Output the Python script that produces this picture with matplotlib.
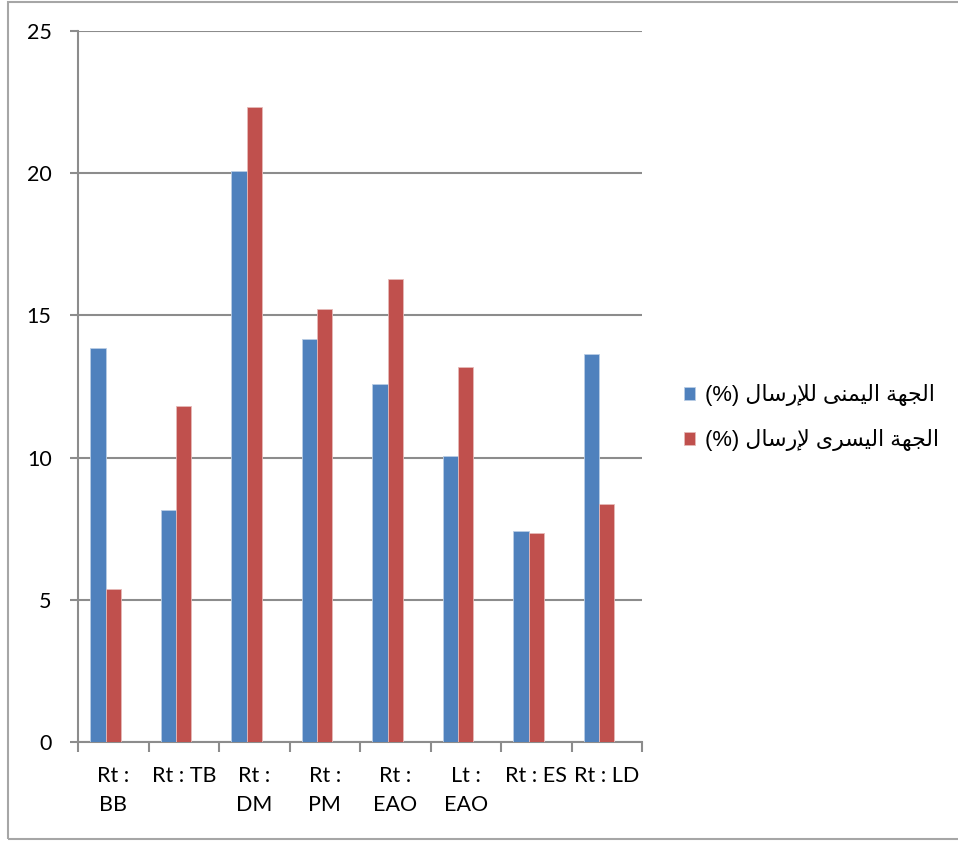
import numpy as np
import matplotlib
matplotlib.use('Agg')
import matplotlib.pyplot as plt
from matplotlib.patches import Rectangle

# data
categories = ['Rt :\nBB', 'Rt : TB', 'Rt :\nDM', 'Rt :\nPM', 'Rt :\nEAO', 'Lt :\nEAO', 'Rt : ES', 'Rt : LD']
right_side = [13.85, 8.16, 20.08, 14.16, 12.58, 10.07, 7.42, 13.64]
left_side = [5.38, 11.81, 22.34, 15.24, 16.28, 13.17, 7.36, 8.36]
yticks = [0, 5, 10, 15, 20, 25]

# legend labels (Arabic, written with presentation forms in visual order)
label_right = '(%) ' + '\uFEDD\uFE8E\uFEB3\uFEAD\uFEFA\uFEDF' + ' ' + \
    '\uFEF0\uFEE8\uFEE4\uFEF4\uFEDF\uFE8D' + ' ' + '\uFE94\uFEEC\uFEA0\uFEDF\uFE8D'
label_left = '(%) ' + '\uFEDD\uFE8E\uFEB3\uFEAD\uFEF9' + ' ' + \
    '\uFEEF\uFEAE\uFEB4\uFEF4\uFEDF\uFE8D' + ' ' + '\uFE94\uFEEC\uFEA0\uFEDF\uFE8D'

blue = '#4F81BD'
red = '#C0504D'
grey = '#8C8C8C'

fig = plt.figure(figsize=(9.58, 8.41), dpi=100)
fig.patches.append(Rectangle((8 / 958, 1 - 839 / 841), 1.0, (839 - 2) / 841,
                             transform=fig.transFigure, fill=False,
                             edgecolor='#A6A6A6', linewidth=1.5))
ax = fig.add_axes([78 / 958, 1 - 742 / 841, (642 - 78) / 958, (742 - 31) / 841])

x = np.arange(len(categories))
w = 0.217
shift = -0.109   # bar pairs sit a little left of the category centre
ax.bar(x + shift - w / 2, right_side, w, color=blue, edgecolor='#B9CDE5', linewidth=0.6,
       label=label_right, zorder=3)
ax.bar(x + shift + w / 2, left_side, w, color=red, edgecolor='#E6B9B8', linewidth=0.6,
       label=label_left, zorder=3)

ax.set_xlim(-0.5, len(categories) - 0.5)
ax.set_ylim(0, 25)
ax.set_yticks(yticks)
ax.yaxis.grid(True, color=grey, linewidth=1.5, zorder=0)
for s in ['top', 'right']:
    ax.spines[s].set_visible(False)
for s in ['left', 'bottom']:
    ax.spines[s].set_color(grey)
    ax.spines[s].set_linewidth(1.5)

tick_font = ['Lato', 'DejaVu Sans']
ax.tick_params(axis='y', length=6, width=1.5, color=grey, pad=13, labelsize=15.5)
ax.set_yticklabels([str(t) for t in yticks], family=tick_font)

# category labels centred, ticks at the category boundaries
ax.set_xticks(x)
ax.set_xticklabels(categories, family=tick_font, fontsize=15.5, linespacing=1.6,
                   va='top')
ax.tick_params(axis='x', which='major', length=0, pad=17)
ax.set_xticks(np.arange(len(categories) + 1) - 0.5, minor=True)
ax.tick_params(axis='x', which='minor', length=7, width=1.5, color=grey)

leg = fig.legend(loc='center left', bbox_to_anchor=(0.693, 0.503),
                 frameon=False, prop={'family': ['Liberation Sans', 'DejaVu Sans'], 'size': 15.8},
                 handlelength=0.52, handleheight=0.52, handletextpad=0.45,
                 labelspacing=1.05)

fig.savefig('out.png', dpi=100)
